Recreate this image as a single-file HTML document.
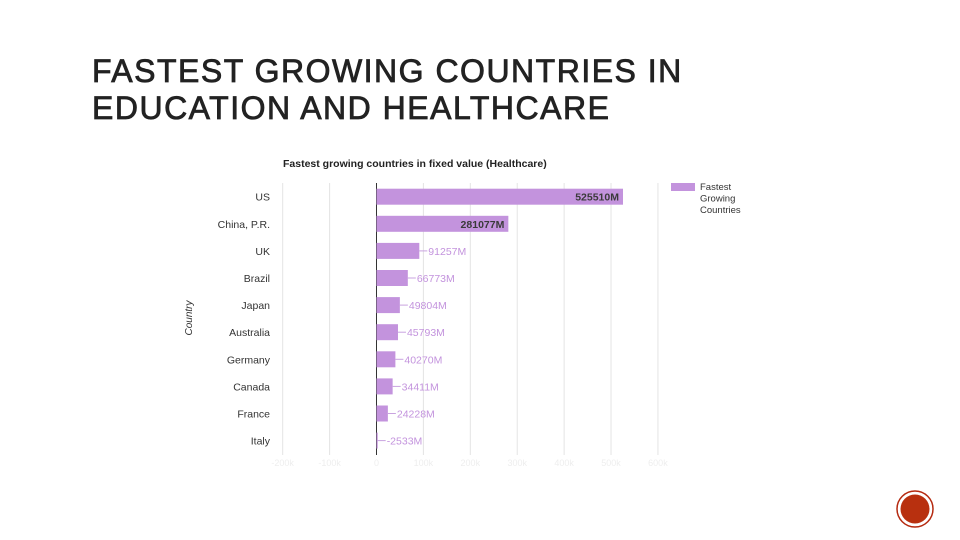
<!DOCTYPE html>
<html><head><meta charset="utf-8"><style>
body{margin:0;background:#fff;width:960px;height:540px;overflow:hidden;position:relative;font-family:"Liberation Sans",sans-serif}
.h{position:absolute;left:92px;color:#222;font-size:32px;letter-spacing:1.5px;line-height:37px;white-space:nowrap;-webkit-text-stroke:0.8px #222}
</style></head><body>
<div class="h" style="top:53px">FASTEST GROWING COUNTRIES IN<br>EDUCATION AND HEALTHCARE</div>
<svg id="chart" width="960" height="540" style="position:absolute;left:0;top:0"></svg>
<script>
const categories=["US","China, P.R.","UK","Brazil","Japan","Australia","Germany","Canada","France","Italy"];
const values=[525510,281077,91257,66773,49804,45793,40270,34411,24228,2533];
const labels=["525510M","281077M","91257M","66773M","49804M","45793M","40270M","34411M","24228M","-2533M"];
const ticks=[-200000,-100000,0,100000,200000,300000,400000,500000,600000];
(function(){
const NS="http://www.w3.org/2000/svg";
const svg=document.getElementById('chart');
const x0=376.5,k=246.5/525510;
const xs=v=>x0+v*k;
const rowY=i=>196.7+i*27.1;
const pTop=183,pBot=455;
function mk(t,a){const e=document.createElementNS(NS,t);for(const n in a)e.setAttribute(n,a[n]);svg.appendChild(e);return e;}
ticks.forEach(t=>{
 const g=mk('line',{x1:xs(t),x2:xs(t),y1:pTop,y2:pBot,stroke:t===0?'#333':'#e4e4e4','stroke-width':1});
 
 
 const tl=mk('text',{x:xs(t),y:466,'text-anchor':'middle','font-size':9,fill:'#eee'});
 tl.textContent=t===0?'0':(t/1000)+'k';
 
 
});
const title=mk('text',{x:283,y:167,'font-size':10.5,'font-weight':'bold',fill:'#222'});
title.textContent="Fastest growing countries in fixed value (Healthcare)";


const yt=mk('text',{x:0,y:0,'font-size':10,'font-style':'italic',fill:'#333','text-anchor':'middle',transform:'translate(192,318) rotate(-90)'});
yt.textContent="Country";


categories.forEach((c,i)=>{
 const y=rowY(i),v=values[i];
 const cl=mk('text',{x:270,y:y+4,'text-anchor':'end','font-size':10.5,fill:'#333'});
 cl.textContent=c;
 
 
 const a=Math.min(xs(0),xs(Math.abs(v)));const w=Math.abs(xs(Math.abs(v))-xs(0));
 const b=mk('rect',{x:a,y:y-8,width:Math.max(w,0.8),height:16,fill:'#c393dd'});
 
 
 const end=xs(Math.abs(v));
 let t;
 if(w>100){t=mk('text',{x:end-4,y:y+4,'text-anchor':'end','font-size':10.5,'font-weight':'bold',fill:'#3a3a3a'});}
 else{mk('line',{x1:end,x2:end+8,y1:y,y2:y,stroke:'#c9a3e0'});t=mk('text',{x:end+9,y:y+4,'font-size':10.5,fill:'#c393dd'});}
 t.textContent=labels[i];
 
 
});
const ls=mk('rect',{x:671,y:183,width:24,height:8,fill:'#c393dd'});


["Fastest","Growing","Countries"].forEach((s,i)=>{
 const t=mk('text',{x:700,y:190+i*11.5,'font-size':9.5,fill:'#333'});
 t.textContent=s;
 
 
});
const c1=mk('circle',{cx:915,cy:509,r:18,fill:'none',stroke:'#b52a10','stroke-width':1.5});


const c2=mk('circle',{cx:915,cy:509,r:14.5,fill:'#b8300f'});


})();
</script>
</body></html>
